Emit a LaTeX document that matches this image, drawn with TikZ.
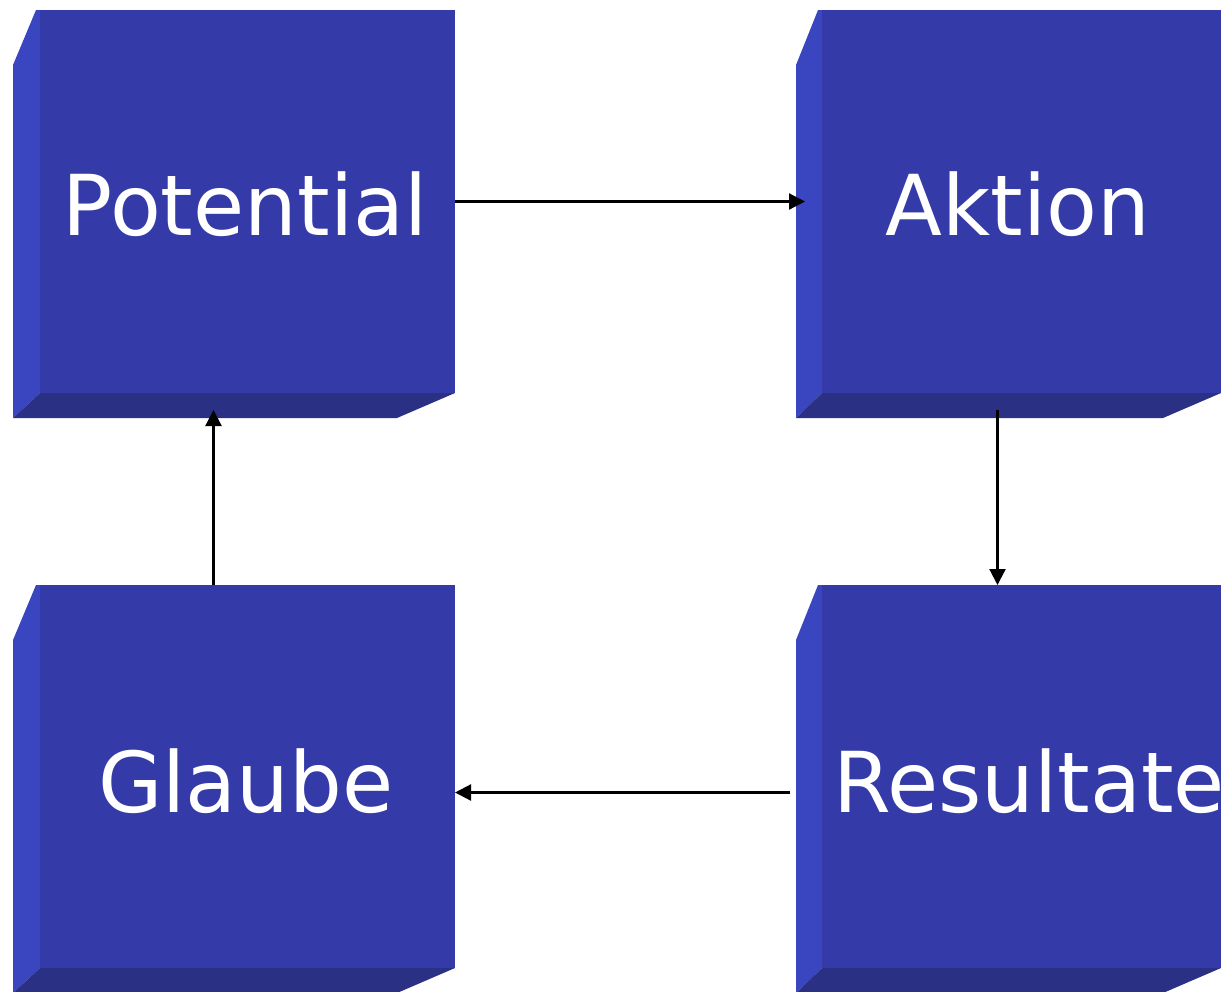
\documentclass[tikz,border=0pt]{standalone}
\usepackage{fontspec}
\newfontfamily\boxfont[FakeStretch=0.99]{DejaVu Sans}
\usetikzlibrary{arrows.meta,calc}

\definecolor{facefront}{RGB}{52,59,168}
\definecolor{faceleft}{RGB}{58,69,192}
\definecolor{facebottom}{RGB}{42,48,132}

% bevelled block: #1 name, #2 outer left, #3 front left, #4 front right,
% #5 top, #6 front bottom, #7 outer bottom
\newcommand\bevelblock[7]{%
  \fill[faceleft] (#3-4,#5) -- (#3,#5) -- (#3,#6) -- (#2,#7) -- (#2,#5+55) -- cycle;
  \fill[facebottom] (#3,#6) -- (#4,#6) -- (#4-58,#7) -- (#2,#7) -- cycle;
  \node[blockface, minimum width=#4-#3, minimum height=#6-#5] (#1) at ({(#3+#4)/2},{(#5+#6)/2}) {};
}

\tikzset{
  blockface/.style={rectangle, fill=facefront, inner sep=0pt, outer sep=0pt},
  blocklabel/.style={text=white, font=\boxfont\fontsize{84}{90}\selectfont, inner sep=0pt, anchor=base},
  flow/.style={draw=black, line width=2.2pt, -{Triangle[length=16pt,width=16pt]}}
}

\begin{document}
\begin{tikzpicture}[x=1pt,y=-1pt]
  \useasboundingbox (0,0) rectangle (1223,991);
  \clip (0,0) rectangle (1223,991);

  \bevelblock{pot}{13}{40}{455}{10}{393}{418}
  \bevelblock{akt}{796}{822}{1221}{10}{393}{418}
  \bevelblock{gla}{13}{40}{455}{585}{968}{993}
  \bevelblock{res}{796}{822}{1221}{585}{968}{993}

  \node[blocklabel] (potlabel) at (245,235) {Potential};
  \node[blocklabel] (aktlabel) at (1018,235) {Aktion};
  \node[blocklabel] (glalabel) at (246,812) {Glaube};
  \node[blocklabel, anchor=base west] (reslabel) at (833,812) {Resultate};

  \coordinate (aktin) at ($(akt.west)+(-17,0)$);
  \coordinate (aktout) at ($(akt.south)+(-24,17)$);
  \coordinate (resin) at ($(res.north)+(-24,0)$);
  \coordinate (resout) at ($(res.west)+(-32,16)$);
  \coordinate (glain) at ($(gla.east)+(0,16)$);
  \coordinate (glaout) at ($(gla.north)+(-34,0)$);
  \coordinate (potin) at ($(pot.south)+(-34,17)$);

  \draw[flow] (pot.east) -- (aktin);
  \draw[flow] (aktout) -- (resin);
  \draw[flow] (resout) -- (glain);
  \draw[flow] (glaout) -- (potin);
\end{tikzpicture}
\end{document}
